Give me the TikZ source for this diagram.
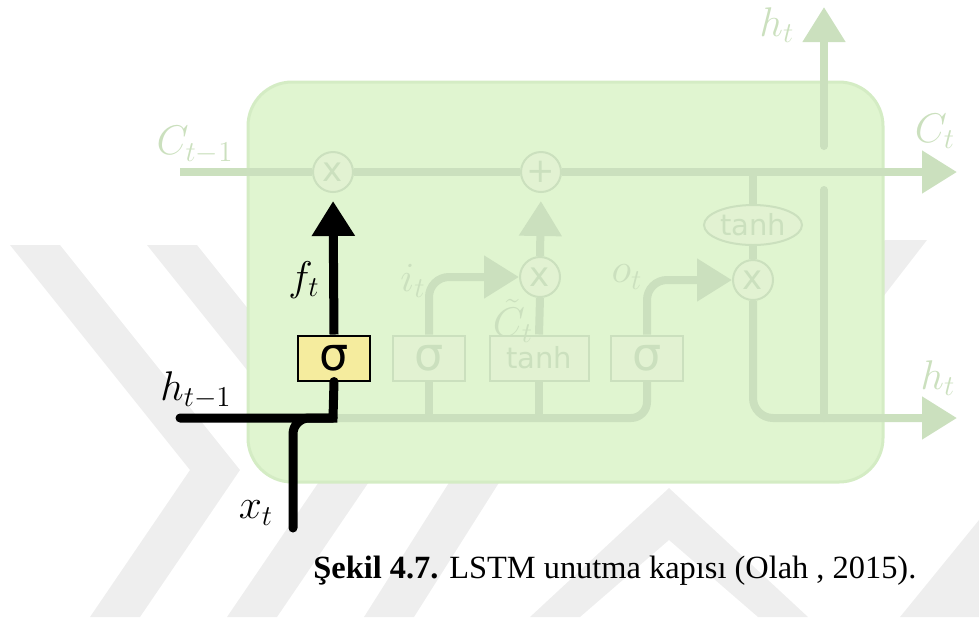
\documentclass[tikz,border=0pt]{standalone}
\usepackage{fontspec}
\setmainfont{Liberation Serif}
\newfontfamily\gatefont{DejaVu Sans}
\usepackage{tikz}
\usetikzlibrary{shapes}
\usetikzlibrary{shapes.geometric}
\usetikzlibrary{positioning}
\usetikzlibrary{arrows.meta}
\definecolor{cellbg}{RGB}{224,245,208}
\definecolor{cellbd}{RGB}{212,236,196}
\definecolor{fadeln}{RGB}{203,224,190}
\definecolor{fadebx}{RGB}{226,242,210}
\definecolor{gateyl}{RGB}{245,236,158}
\definecolor{wmark}{RGB}{238,238,238}
\tikzset{
    cellbox/.style = {draw=cellbd, line width=1.5pt, fill=cellbg, rounded corners=22pt},
    gatenode/.style = {rectangle, draw=black, line width=1pt, fill=gateyl, minimum width=36pt, minimum height=22.5pt, inner sep=0pt, font=\gatefont\fontsize{23}{23}\selectfont, text=black},
    gatenodef/.style = {rectangle, draw=fadeln, line width=1pt, fill=fadebx, minimum width=36pt, minimum height=22.5pt, inner sep=0pt, font=\gatefont\fontsize{23}{23}\selectfont, text=fadeln},
    tanhnodef/.style = {gatenodef, minimum width=49.5pt, font=\gatefont\fontsize{14.5}{14.5}\selectfont},
    opnodef/.style = {circle, draw=fadeln, line width=1pt, fill=fadebx, minimum size=20pt, inner sep=0pt, font=\gatefont\fontsize{17}{17}\selectfont, text=fadeln},
    ellnodef/.style = {ellipse, draw=fadeln, line width=1pt, fill=fadebx, minimum width=49pt, minimum height=20pt, inner sep=0pt, font=\gatefont\fontsize{14.5}{14.5}\selectfont, text=fadeln},
    edgeb/.style = {-, line width=4.5pt, black},
    edgef/.style = {-, line width=4pt, fadeln},
    tipb/.style = {-{Triangle[length=17.5pt,width=20.5pt]}},
    lblb/.style = {inner sep=0pt, font=\fontsize{20}{24}\selectfont, text=black},
    lblf/.style = {lblb, text=fadeln}
}
\begin{document}
\begin{tikzpicture}[x=0.5pt, y=-0.5pt]
  \useasboundingbox (0,0) rectangle (979,617);
  % watermark
  \fill[wmark] (10,245) -- (60,245) -- (240,470) -- (140,617) -- (90,617) -- (190,470) -- cycle;
  \fill[wmark] (147,245) -- (197,245) -- (377,470) -- (277,617) -- (227,617) -- (327,470) -- cycle;
  \fill[wmark] (364,617) -- (414,617) -- (507,470) -- (457,470) -- cycle;
  \fill[wmark] (530,617) -- (580,617) -- (669,540) -- (758,617) -- (808,617) -- (669,488) -- cycle;
  \fill[wmark] (885,240) -- (927,240) -- (780,430) -- (738,430) -- cycle;
  \fill[wmark] (900,617) -- (979,617) -- (979,520) -- cycle;
  \draw[cellbox] (248,82) rectangle (883,482);

  \node[gatenode] (sigf) at (334,358) {σ};
  \node[gatenodef] (sigi) at (429,358) {σ};
  \node[tanhnodef] (tanhc) at (539,358) {tanh};
  \node[gatenodef] (sigo) at (647,358) {σ};
  \node[opnodef] (mulf) at (333,172) {x};
  \node[opnodef] (addc) at (541,172) {+};
  \node[opnodef] (muli) at (540,277) {x};
  \node[opnodef] (mulo) at (753,280) {x};
  \node[ellnodef] (tanho) at (753,225) {tanh};

  \coordinate (cin) at (180,172);
  \coordinate (cout) at (957,172);
  \coordinate (tap) at (753,172);
  \coordinate (hin) at (180,418);
  \coordinate (hjoin) at (333,418);
  \coordinate (xin) at (293,528);
  \coordinate (hout) at (957,418);
  \coordinate (hgapb) at (824,190);
  \coordinate (hgapt) at (824,146);
  \coordinate (htop) at (824,7);

  \draw[edgef] (cin) -- (mulf);
  \draw[edgef] (mulf) -- (addc);
  \draw[edgef, tipb] (addc) -- (cout);
  \draw[edgef, rounded corners=8pt] (hjoin) -- (sigo.south |- hjoin) -- (sigo.south);
  \draw[edgef] (sigi.south) -- (sigi.south |- hjoin);
  \draw[edgef] (tanhc.south) -- (tanhc.south |- hjoin);
  \draw[edgef, tipb, rounded corners=10pt] (sigi.north) -- (sigi.north |- muli) -- (muli.west);
  \draw[edgef] (tanhc.north) -- (muli.south);
  \draw[edgef, tipb, shorten >=4pt] (muli.north) -- (addc.south);
  \draw[edgef, tipb, rounded corners=10pt] (sigo.north) -- (sigo.north |- mulo) -- (mulo.west);
  \draw[edgef] (tap) -- (tanho.north);
  \draw[edgef] (tanho.south) -- (mulo.north);
  \draw[edgef, tipb, rounded corners=10pt] (mulo.south) -- (mulo.south |- hout) -- (hout);
  \draw[edgef, line cap=round] (hgapb |- hout) -- (hgapb);
  \draw[edgef, tipb, line cap=round] (hgapt) -- (htop);

  \draw[edgeb, line cap=round, rounded corners=8pt] (xin) -- (xin |- hjoin) -- (hjoin);
  \draw[edgeb, line cap=round] (hin) -- (hjoin) -- (sigf.south);
  \draw[edgeb, tipb, shorten >=4pt] (sigf.north) -- (mulf.south);

  \node[lblf] (lct1) at (195,145) {$C_{t-1}$};
  \node[lblf] (lct) at (935,131) {$C_t$};
  \node[lblf] (lhtt) at (777,25) {$h_t$};
  \node[lblf] (lhtr) at (938,378) {$h_t$};
  \node[lblf] (lit) at (413,281) {$i_t$};
  \node[lblf] (lot) at (627,277) {$o_t$};
  \node[lblf] (lctil) at (513,321) {$\tilde{C}_t$};
  \node[lblb] (lht1) at (196,390) {$h_{t-1}$};
  \node[lblb] (lxt) at (256,513) {$x_t$};
  \node[lblb] (lft) at (304,280) {$f_t$};

  \node[anchor=base west, inner sep=0pt, font=\fontsize{16.2}{19}\selectfont] (capt) at (313,578) {\textbf{Şekil 4.7.} LSTM unutma kapısı (Olah , 2015).};
\end{tikzpicture}
\end{document}
